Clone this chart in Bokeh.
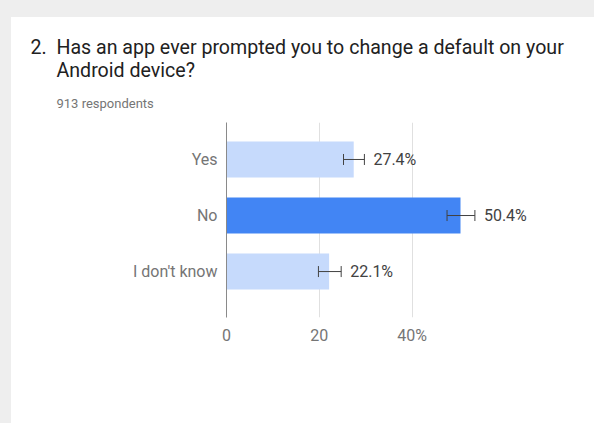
from bokeh.plotting import figure
from bokeh.layouts import column
from bokeh.models import (Range1d, FixedTicker, ColumnDataSource, Whisker, TeeHead,
                          Title)
from bokeh.core.properties import value
from bokeh.embed import file_html
from bokeh.resources import INLINE

title_line1 = "2.\u00a0 Has an app ever prompted you to change a default on your"
title_line2 = "Android device?"
subtitle = "913 respondents"

categories = ["Yes", "No", "I don't know"]
percent = [27.4, 50.4, 22.1]
err_low = [25.2, 47.5, 19.8]
err_high = [29.7, 53.5, 24.7]
labels = ["27.4%", "50.4%", "22.1%"]
bar_colors = ["#c6dafc", "#4285f4", "#c6dafc"]
x_ticks = [0, 20, 40]
x_tick_labels = ["0", "20", "40%"]

pos = list(range(len(categories)))
src = ColumnDataSource(dict(pos=pos, pct=percent, lo=err_low, hi=err_high,
                            lab=labels, col=bar_colors))

FONT = "Roboto"

p = figure(width=583, height=406, output_backend="svg", toolbar_location=None,
           x_range=Range1d(0, 70), y_range=Range1d(2.82, -0.66),
           min_border_left=215, min_border_right=43, min_border_top=105,
           min_border_bottom=106)
p.margin = (17, 0, 0, 11)
p.styles = {"background-color": "white"}
p.background_fill_color = "white"
p.border_fill_color = "white"
p.outline_line_color = None

p.hbar(y="pos", right="pct", left=0, height=0.64, fill_color="col",
       line_color=None, source=src)

wh = Whisker(base="pos", lower="lo", upper="hi", dimension="width", source=src,
             line_color="#424242", line_width=1, level="overlay",
             upper_head=TeeHead(size=11, line_color="#424242", line_width=1),
             lower_head=TeeHead(size=11, line_color="#424242", line_width=1))
p.add_layout(wh)

p.text(x="hi", y="pos", text="lab", source=src, x_offset=9,
       text_baseline="middle", text_align="left", text_color="#424242",
       text_font=value(FONT), text_font_size="16px")

# x axis
p.xaxis.ticker = FixedTicker(ticks=x_ticks)
p.xaxis.major_label_overrides = {t: l for t, l in zip(x_ticks, x_tick_labels)}
p.xaxis.axis_line_color = None
p.xaxis.major_tick_line_color = None
p.xaxis.minor_tick_line_color = None
p.xaxis.major_tick_out = 0
p.xaxis.major_label_standoff = 8
p.xaxis.major_label_text_color = "#757575"
p.xaxis.major_label_text_font = FONT
p.xaxis.major_label_text_font_size = "16px"

p.xgrid.ticker = FixedTicker(ticks=x_ticks)
p.xgrid.grid_line_color = "#e0e0e0"
p.ygrid.grid_line_color = None

# y axis
p.yaxis.ticker = FixedTicker(ticks=pos)
p.yaxis.major_label_overrides = {i: c for i, c in zip(pos, categories)}
p.yaxis.axis_line_color = "#8a8a8a"
p.yaxis.major_tick_line_color = None
p.yaxis.minor_tick_line_color = None
p.yaxis.major_tick_out = 0
p.yaxis.major_label_standoff = 9
p.yaxis.major_label_text_color = "#757575"
p.yaxis.major_label_text_font = FONT
p.yaxis.major_label_text_font_size = "16px"

# titles (inner first)
t3 = Title(text=subtitle, align="left", offset=-170, text_font=FONT,
           text_font_size="13px", text_font_style="normal", text_color="#757575",
           standoff=23)
t2 = Title(text=title_line2, align="left", offset=-170, text_font=FONT,
           text_font_size="19.6px", text_font_style="normal", text_color="#212121",
           standoff=2)
t1 = Title(text=title_line1, align="left", offset=-196, text_font=FONT,
           text_font_size="19.6px", text_font_style="normal", text_color="#212121",
           standoff=-7)
p.add_layout(t3, "above")
p.add_layout(t2, "above")
p.add_layout(t1, "above")

page = column(p, styles={"background-color": "#eeeeee"})

open("out.html", "w").write(file_html(page, INLINE))
